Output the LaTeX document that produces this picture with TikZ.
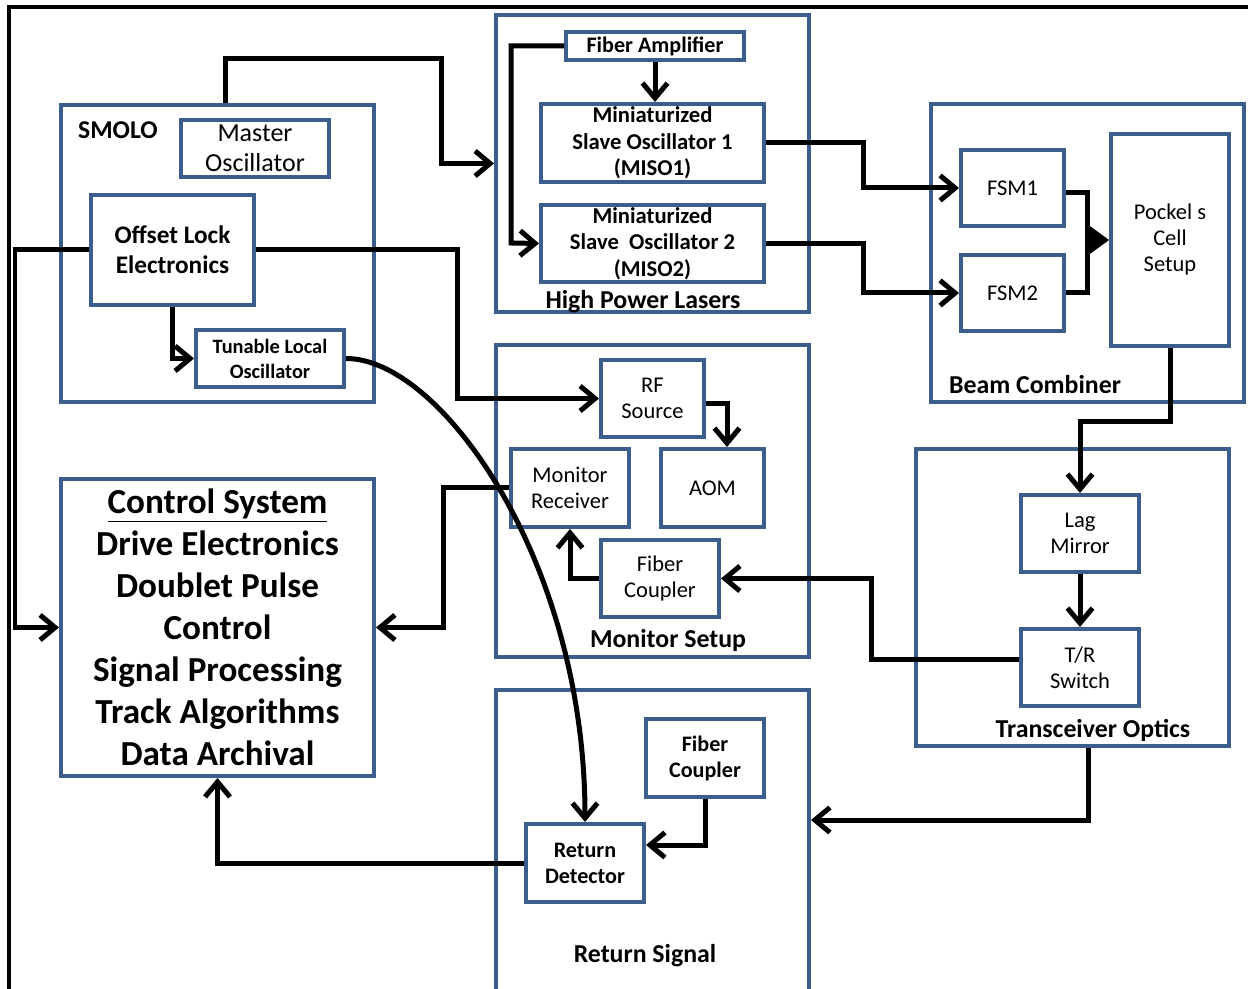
\documentclass[tikz,border=0pt]{standalone}
\usepackage{fontspec}
\setmainfont{Carlito}
\usepackage{xcolor}
\usepackage{tikz}
\usetikzlibrary{arrows.meta}

\definecolor{boxblue}{RGB}{59,94,140}

\tikzset{
  sz/.style 2 args={minimum width=#1*0.02cm, minimum height=#2*0.02cm},
  group/.style={draw=boxblue, line width=0.08cm, inner sep=0pt},
  part/.style={draw=boxblue, line width=0.08cm, inner sep=0pt, align=center,
    font=\fontsize{12.8}{14.8}\selectfont},
  boldpart/.style={part, font=\bfseries\fontsize{12.6}{14.8}\selectfont},
  grouplbl/.style={font=\bfseries\fontsize{14.7}{17}\selectfont},
  conn/.style={line width=0.1cm, -{Straight Barb[length=0.3cm,width=0.5cm]}},
  mergeconn/.style={line width=0.1cm, -{Triangle[length=0.4cm,width=0.55cm]}}
}

\begin{document}
\begin{tikzpicture}[x=0.02cm, y=-0.02cm]
\useasboundingbox (0,0) rectangle (1248,989);
\draw [line width=0.08cm] (9,989) |- (1248,7);

% SMOLO
\node (smolo) at (217.5,253.5) [group, sz={313}{297}] {};
\node (smolo-lbl) at (118,130) [grouplbl, font=\bfseries\fontsize{14.6}{17}\selectfont] {SMOLO};
\node (master) at (255,148.5) [part, sz={148}{57}, font=\fontsize{14.8}{17}\selectfont] {Master\\Oscillator};
\node (offset) at (172.5,250) [boldpart, sz={163}{110}, font=\bfseries\fontsize{14.4}{17}\selectfont] {Offset Lock\\Electronics};
\node (tlo) at (270,358.5) [boldpart, sz={148}{57}, font=\bfseries\fontsize{11.6}{14.2}\selectfont] {Tunable Local\\Oscillator};

% High Power Lasers
\node (hpl) at (652.5,163.5) [group, sz={313}{297}] {};
\node (hpl-lbl) at (643,302) [grouplbl] {High Power Lasers};
\node (famp) at (655,46) [boldpart, sz={178}{28}] {Fiber Amplifier};
\node (miso1) at (652.5,143) [boldpart, sz={223}{78}, font=\bfseries\fontsize{12.9}{15}\selectfont] {Miniaturized\\Slave Oscillator 1\\(MISO1)};
\node (miso2) at (652.5,243.5) [boldpart, sz={223}{77}, font=\bfseries\fontsize{12.9}{15}\selectfont] {Miniaturized\\Slave\ \ Oscillator 2\\(MISO2)};

% Beam Combiner
\node (beam) at (1087.5,253) [group, sz={313}{298}] {};
\node (beam-lbl) at (1035,385) [grouplbl] {Beam Combiner};
\node (fsm1) at (1012.5,188) [part, sz={103}{76}] {FSM1};
\node (fsm2) at (1012.5,293) [part, sz={103}{76}] {FSM2};
\node (pockels) at (1170,240) [part, sz={118}{212}] {Pockel s\\Cell\\Setup};

% Monitor Setup
\node (monitor) at (652.5,501) [group, sz={313}{312}] {};
\node (monitor-lbl) at (668,640) [grouplbl] {Monitor Setup};
\node (rf) at (652.5,398.5) [part, sz={103}{77}] {RF\\Source};
\node (monrx) at (570,488) [part, sz={118}{78}] {Monitor\\Receiver};
\node (aom) at (712.5,488) [part, sz={103}{78}] {AOM};
\node (fcmon) at (660,578.5) [part, sz={118}{77}] {Fiber\\Coupler};

% Transceiver Optics
\node (trans) at (1072.5,597.5) [group, sz={313}{297}] {};
\node (trans-lbl) at (1093,730) [grouplbl] {Transceiver Optics};
\node (lag) at (1080,533.5) [part, sz={118}{77}] {Lag\\Mirror};
\node (trsw) at (1080,667.5) [part, sz={118}{77}] {T/R\\Switch};

% Control System
\node (control) at (217.5,627.5) [part, sz={313}{297}, font=\bfseries\fontsize{20}{23.9}\selectfont] {\underline{Control System}\\Drive Electronics\\Doublet Pulse\\Control\\Signal Processing\\Track Algorithms\\Data Archival};

% Return Signal
\node (retsig) at (652.5,844) [group, sz={313}{308}] {};
\node (retsig-lbl) at (645,956) [grouplbl] {Return Signal};
\node (fcret) at (705,758) [boldpart, sz={118}{78}] {Fiber\\Coupler};
\node (retdet) at (585,863) [boldpart, sz={118}{78}] {Return\\Detector};

% connections
\draw [conn] ([xshift=0.15cm]smolo.north) |- (441,59) |- (hpl.west);
\draw [conn] (famp.south) -- (famp.south |- miso1.north);
\draw [conn] (famp.west) -| (511,243) -- (miso2.west);
\draw [conn] (miso1.east) -| (863,165) |- (fsm1.west);
\draw [conn] (miso2.east) -| (863,270) |- (fsm2.west);
\draw [mergeconn] ([yshift=-0.1cm]fsm1.east) -| (1087,220) |- (pockels.west);
\draw [mergeconn] (fsm2.east) -| (1087,260) |- (pockels.west);
\draw [conn] (pockels.south) |- (1080,422) -- (lag.north);
\draw [conn] (lag.south) -- (trsw.north);
\draw [conn] ([yshift=0.17cm]trsw.west) -| (871,620) |- (fcmon.east);
\draw [conn] ([xshift=0.31cm]trans.south) |- ([yshift=0.48cm]retsig.east);
\draw [conn] (fcret.south) |- ([yshift=0.36cm]retdet.east);
\draw [conn] (retdet.west) -| (control.south);
\draw [conn] (monrx.west) -| (443,560) |- (control.east);
\draw [conn] (fcmon.west) -| (monrx.south);
\draw [conn] ([yshift=-0.1cm]rf.east) -| ([xshift=0.29cm]aom.north);
\draw [conn] (offset.west) -| (15,400) |- (control.west);
\draw [conn] (offset.east) -| (457,330) |- (rf.west);
\draw [conn] (offset.south) |- (tlo.west);
\draw [conn] (tlo.east) .. controls (440,358) and (585,560) .. (retdet.north);
\end{tikzpicture}
\end{document}
